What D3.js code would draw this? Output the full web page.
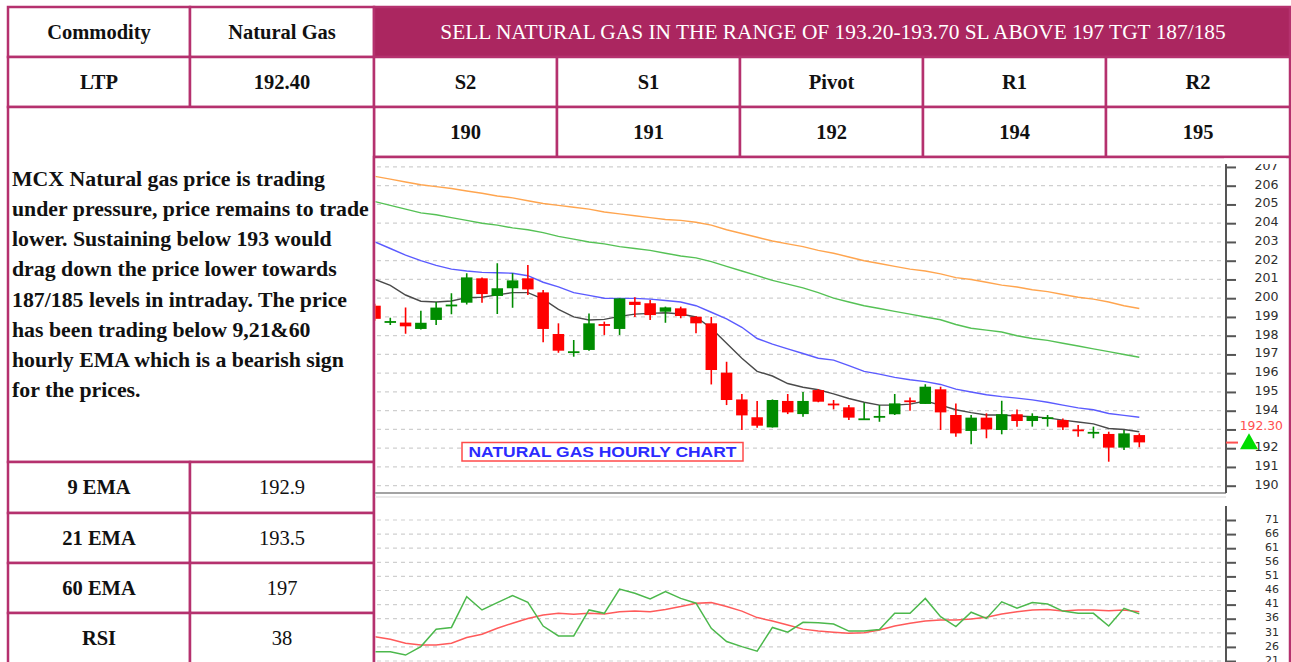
<!DOCTYPE html>
<html>
<head>
<meta charset="utf-8">
<script src="https://cdn.jsdelivr.net/npm/d3@7"></script>
<style>
  body { margin: 0; background: #fff; }
</style>
</head>
<body>
<div id="chart"></div>
<script>
// ---- data ----
const levelNames = ["S2", "S1", "Pivot", "R1", "R2"];
const levelValues = ["190", "191", "192", "194", "195"];
const emaNames = ["9 EMA", "21 EMA", "60 EMA", "RSI"];
const emaValues = ["192.9", "193.5", "197", "38"];
const headline = "SELL NATURAL GAS IN THE RANGE OF 193.20-193.70 SL ABOVE 197 TGT 187/185";
const commentLines = [
  "MCX Natural gas price is trading",
  "under pressure, price remains to trade",
  "lower. Sustaining below 193 would",
  "drag down the price lower towards",
  "187/185 levels in intraday. The price",
  "has been trading below 9,21&60",
  "hourly EMA which is a bearish sign",
  "for the prices."
];

// hourly candles (51 bars)
const openP = [199.60,198.72,198.70,198.36,198.84,199.60,199.76,201.06,200.12,200.53,
  201.06,200.31,198.09,197.13,197.24,198.62,198.36,199.81,199.73,199.28,
  199.46,199.01,198.66,196.03,194.60,193.65,193.11,194.52,193.82,195.10,
  194.38,194.18,193.55,193.68,193.81,194.55,194.36,195.14,193.77,192.92,
  193.63,192.97,193.81,193.45,193.61,193.50,193.00,192.83,192.76,192.03,192.70];
const highP = [199.70,198.96,199.50,199.33,199.80,200.26,201.33,201.10,201.86,201.33,
  201.77,200.44,198.66,197.77,199.19,198.75,200.00,200.05,199.90,199.55,
  199.55,199.05,199.00,196.61,194.89,194.52,194.60,194.89,195.00,195.15,
  194.57,194.30,194.43,194.30,194.89,194.71,195.41,195.28,194.39,193.77,
  193.86,194.53,194.07,193.86,193.77,193.59,193.24,193.15,192.88,192.97,192.79];
const lowP = [198.80,198.57,198.10,198.33,198.57,199.14,199.67,199.76,199.16,199.49,
  200.17,197.65,197.09,196.88,197.20,198.04,198.04,199.00,198.84,198.69,
  198.93,198.13,195.40,194.30,192.97,193.09,193.10,193.82,193.68,194.45,
  194.07,193.50,193.50,193.41,193.77,194.00,194.36,192.97,192.61,192.21,
  192.53,192.74,193.15,193.15,193.15,192.97,192.61,192.53,191.28,191.90,192.05];
const closeP = [198.90,198.78,198.50,198.69,199.50,199.66,201.11,200.22,200.53,200.95,
  200.47,198.36,197.20,197.17,198.66,198.58,199.99,199.64,199.10,199.51,
  199.05,198.66,196.17,194.57,193.75,193.20,194.57,193.91,194.52,194.48,
  194.34,193.63,193.59,193.72,194.39,194.49,195.28,193.91,192.79,193.63,
  193.00,193.81,193.45,193.72,193.65,193.11,192.95,192.87,192.03,192.79,192.31];

// moving averages
const ema9 = [201.00,200.68,200.17,199.84,199.80,199.85,200.03,200.05,200.18,200.30,
  200.30,199.95,199.40,199.00,198.84,198.87,199.03,199.15,199.19,199.22,
  199.16,199.00,198.40,197.60,196.80,196.10,195.85,195.45,195.25,195.12,
  194.90,194.65,194.45,194.30,194.30,194.35,194.52,194.30,194.05,193.90,
  193.77,193.77,193.72,193.68,193.62,193.50,193.40,193.30,193.05,193.00,192.88];
const ema21 = [203.00,202.65,202.30,202.00,201.75,201.55,201.45,201.38,201.36,201.33,
  201.20,200.85,200.60,200.30,200.15,200.00,199.99,199.99,199.95,199.88,
  199.80,199.60,199.25,198.90,198.45,197.85,197.55,197.30,197.05,196.80,
  196.70,196.40,196.10,195.95,195.78,195.65,195.55,195.40,195.15,195.00,
  194.85,194.75,194.67,194.58,194.45,194.30,194.15,194.05,193.85,193.75,193.65];
const ema60 = [205.15,204.95,204.75,204.55,204.45,204.30,204.15,204.00,203.90,203.75,
  203.65,203.50,203.30,203.15,203.00,202.90,202.75,202.65,202.55,202.40,
  202.25,202.15,201.95,201.70,201.45,201.20,200.95,200.75,200.55,200.30,
  200.00,199.80,199.60,199.45,199.30,199.15,199.00,198.85,198.60,198.40,
  198.30,198.20,198.00,197.85,197.75,197.60,197.45,197.30,197.15,197.00,196.85];
const emaLong = [206.50,206.35,206.20,206.05,205.95,205.85,205.72,205.60,205.45,205.35,
  205.20,205.05,204.95,204.85,204.75,204.60,204.50,204.40,204.30,204.20,
  204.15,204.05,203.90,203.65,203.45,203.25,203.05,202.90,202.75,202.55,
  202.40,202.20,202.00,201.85,201.70,201.55,201.45,201.30,201.10,201.00,
  200.85,200.70,200.60,200.45,200.35,200.20,200.05,199.95,199.80,199.60,199.45];

// RSI panel
const rsi = [24.3,24.3,23.1,26.1,32.3,32.9,43.8,39.1,41.7,44.2,
  41.8,33.4,29.9,29.9,39.1,37.9,46.5,45.0,43.0,45.6,
  43.2,41.5,32.6,27.9,26.1,24.5,32.9,31.2,34.7,34.6,
  34.1,31.6,31.6,32.2,37.9,37.9,43.2,36.7,33.2,38.3,
  36.1,42.0,39.7,41.7,41.2,38.7,37.9,37.9,33.4,39.7,37.7];
const rsiSignal = [29.6,28.7,27.3,26.7,26.7,27.3,29.3,30.5,32.6,34.4,
  36.1,37.3,37.9,37.6,37.9,37.7,38.5,38.7,38.5,39.3,
  40.3,41.5,41.7,40.3,38.7,36.4,35.2,33.8,32.3,31.6,
  31.2,30.8,31.0,32.0,33.4,34.4,35.2,35.5,35.5,35.9,
  36.5,37.7,38.5,39.1,39.3,38.7,39.1,39.1,38.8,39.1,38.5];

const priceTicks = [190,191,192,193,194,195,196,197,198,199,200,201,202,203,204,205,206,207];
const rsiTicks = [21,26,31,36,41,46,51,56,61,66,71];
const lastPrice = 192.30;
const chartTitle = "NATURAL GAS HOURLY CHART";

// ---- layout ----
const W = 1291, H = 662;
const border = "#b5316e", headFill = "#ab2660";
const serif = "'Liberation Serif','Times New Roman',serif";
const sans = "'DejaVu Sans',Verdana,sans-serif";

const colX = [8, 190, 374, 557, 740, 923, 1106, 1290];
const rowY = [7, 57, 107, 157];
const emaRowY = [462, 513, 563, 613, 666];

const svg = d3.select("#chart").append("svg")
  .attr("width", W)
  .attr("height", H)
  .style("display", "block");

function cell(x0, y0, x1, y1, fill) {
  svg.append("rect")
    .attr("x", x0).attr("y", y0)
    .attr("width", x1 - x0).attr("height", y1 - y0)
    .attr("fill", fill || "#fff")
    .attr("stroke", border)
    .attr("stroke-width", 2.5);
}

function cellText(x, yc, t, size, weight, color) {
  svg.append("text")
    .attr("x", x)
    .attr("y", yc + size * 0.33)
    .attr("text-anchor", "middle")
    .style("font-family", serif)
    .style("font-size", size + "px")
    .style("font-weight", weight)
    .attr("fill", color || "#111")
    .text(t);
}

// ---- table ----
cell(colX[0], rowY[0], colX[1], rowY[1]);
cell(colX[1], rowY[0], colX[2], rowY[1]);
cell(colX[2], rowY[0], colX[7], rowY[1], headFill);
cell(colX[0], rowY[1], colX[1], rowY[2]);
cell(colX[1], rowY[1], colX[2], rowY[2]);
levelNames.forEach((d, i) => {
  cell(colX[i + 2], rowY[1], colX[i + 3], rowY[2]);
  cell(colX[i + 2], rowY[2], colX[i + 3], rowY[3]);
});
cell(colX[0], rowY[2], colX[2], emaRowY[0]);
emaNames.forEach((d, i) => {
  cell(colX[0], emaRowY[i], colX[1], emaRowY[i + 1]);
  cell(colX[1], emaRowY[i], colX[2], emaRowY[i + 1]);
});
cell(colX[2], rowY[3], colX[7], H + 4);

const mid = (a, b) => (a + b) / 2;
cellText(mid(colX[0], colX[1]), mid(rowY[0], rowY[1]), "Commodity", 20.5, "bold");
cellText(mid(colX[1], colX[2]), mid(rowY[0], rowY[1]), "Natural Gas", 20.5, "bold");
cellText(mid(colX[2], colX[7]) + 1, mid(rowY[0], rowY[1]), headline, 21.4, "normal", "#fff");
cellText(mid(colX[0], colX[1]), mid(rowY[1], rowY[2]), "LTP", 20.5, "bold");
cellText(mid(colX[1], colX[2]), mid(rowY[1], rowY[2]), "192.40", 20.5, "bold");
levelNames.forEach((d, i) => {
  cellText(mid(colX[i + 2], colX[i + 3]), mid(rowY[1], rowY[2]), d, 20.5, "bold");
  cellText(mid(colX[i + 2], colX[i + 3]), mid(rowY[2], rowY[3]), levelValues[i], 20.5, "bold");
});
emaNames.forEach((d, i) => {
  const yc = mid(emaRowY[i], Math.min(emaRowY[i + 1], 663));
  cellText(mid(colX[0], colX[1]), yc, d, 20.5, "bold");
  cellText(mid(colX[1], colX[2]), yc, emaValues[i], 20.5, "normal");
});

svg.append("g").selectAll("text")
  .data(commentLines)
  .join("text")
  .attr("x", 12)
  .attr("y", (d, i) => 185.7 + i * 30.2)
  .style("font-family", serif)
  .style("font-size", "21.8px")
  .style("font-weight", "bold")
  .attr("fill", "#111")
  .text(d => d);

// ---- price chart ----
const idx = d3.range(openP.length);
const x = d3.scaleLinear().domain([0, openP.length - 1]).range([375, 1139.3]);
const y = d3.scaleLinear().domain([190, 207]).range([485.7, 166.95]);
const axisX = 1226;

const defs = svg.append("defs");
defs.append("clipPath").attr("id", "clipMain")
  .append("rect").attr("x", 375.5).attr("y", 163).attr("width", axisX - 375.5).attr("height", 493 - 163);
defs.append("clipPath").attr("id", "clipRsi")
  .append("rect").attr("x", 375.5).attr("y", 497).attr("width", axisX - 375.5).attr("height", H - 497);

const main = svg.append("g").attr("clip-path", "url(#clipMain)");

main.append("g").selectAll("line")
  .data(priceTicks)
  .join("line")
  .attr("x1", 377).attr("x2", 1222)
  .attr("y1", d => y(d)).attr("y2", d => y(d))
  .attr("stroke", "#cfcfcf")
  .attr("stroke-width", 1.2)
  .attr("stroke-dasharray", "4,4");

const emaSeries = [
  { values: emaLong, color: "#ffa54f" },
  { values: ema60, color: "#55c155" },
  { values: ema21, color: "#5b5bff" },
  { values: ema9, color: "#4a4a4a" }
];
const priceLine = d3.line().x((d, i) => x(i)).y(d => y(d));
main.append("g").selectAll("path")
  .data(emaSeries)
  .join("path")
  .attr("d", d => priceLine(d.values))
  .attr("fill", "none")
  .attr("stroke", d => d.color)
  .attr("stroke-width", 1.4);

const upColor = "#008c00", downColor = "#ff0000";
const bodyW = 11.5;
const candles = main.append("g").selectAll("g")
  .data(idx)
  .join("g")
  .attr("fill", i => closeP[i] >= openP[i] ? upColor : downColor)
  .attr("stroke", i => closeP[i] >= openP[i] ? upColor : downColor);

candles.append("line")
  .attr("x1", i => x(i)).attr("x2", i => x(i))
  .attr("y1", i => y(highP[i])).attr("y2", i => y(lowP[i]))
  .attr("stroke-width", 1.6);

candles.append("rect")
  .attr("x", i => x(i) - bodyW / 2)
  .attr("width", bodyW)
  .attr("y", i => y(Math.max(openP[i], closeP[i])))
  .attr("height", i => Math.max(1.8, Math.abs(y(openP[i]) - y(closeP[i]))))
  .attr("stroke", "none");

// chart label box
const boxG = main.append("g");
boxG.append("rect")
  .attr("x", 462).attr("y", 442.5)
  .attr("width", 281).attr("height", 18.5)
  .attr("fill", "#fff")
  .attr("stroke", "#ff4a4a")
  .attr("stroke-width", 1.5);
boxG.append("text")
  .attr("x", 602.5).attr("y", 457)
  .attr("text-anchor", "middle")
  .attr("textLength", 268)
  .attr("lengthAdjust", "spacingAndGlyphs")
  .style("font-family", "'Liberation Sans',Arial,sans-serif")
  .style("font-size", "14.5px")
  .style("font-weight", "bold")
  .attr("fill", "#2b2bff")
  .text(chartTitle);

// bottom edge of price panel
svg.append("line")
  .attr("x1", 375).attr("x2", axisX)
  .attr("y1", 493).attr("y2", 493)
  .attr("stroke", "#a3a3a3").attr("stroke-width", 2);

// right price axis
const yAxis = d3.axisRight(y)
  .tickValues(priceTicks)
  .tickSize(10)
  .tickFormat(d => d === 193 ? "" : d);
const yAxisG = svg.append("g")
  .attr("transform", `translate(${axisX},0)`)
  .call(yAxis);
yAxisG.select(".domain").remove();
yAxisG.selectAll(".tick line").attr("stroke", "#555").attr("stroke-width", 2);
yAxisG.selectAll(".tick text")
  .attr("x", 52.5).attr("dy", "0.2em")
  .attr("text-anchor", "end")
  .attr("fill", "#2e2e2e")
  .style("font-family", sans)
  .style("font-size", "12.6px");
yAxisG.append("line")
  .attr("x1", 0).attr("x2", 0)
  .attr("y1", 163).attr("y2", 493)
  .attr("stroke", "#555").attr("stroke-width", 2);

// the top label sits partly under the table border
svg.append("rect").attr("x", axisX - 2).attr("y", 158.5).attr("width", 62).attr("height", 5.5).attr("fill", "#fff");

// last price marker
svg.append("line")
  .attr("x1", axisX).attr("x2", axisX + 12)
  .attr("y1", y(lastPrice)).attr("y2", y(lastPrice))
  .attr("stroke", "#ff5050").attr("stroke-width", 2);
svg.append("text")
  .attr("x", 1283).attr("y", y(lastPrice) - 13)
  .attr("text-anchor", "end")
  .attr("fill", "#ff5050")
  .style("font-family", sans)
  .style("font-size", "12.4px")
  .text(lastPrice.toFixed(2));
svg.append("path")
  .attr("d", `M1240,${y(192) + 1} L1258,${y(192) + 1} L1249,${y(192) - 15} Z`)
  .attr("fill", "#00dd00");

// ---- RSI panel ----
const r = d3.scaleLinear().domain([21, 71]).range([661, 520]);

svg.append("line")
  .attr("x1", 375).attr("x2", axisX)
  .attr("y1", 497).attr("y2", 497)
  .attr("stroke", "#e4e4e4").attr("stroke-width", 1.5);

const rsiG = svg.append("g").attr("clip-path", "url(#clipRsi)");
rsiG.append("g").selectAll("line")
  .data(rsiTicks)
  .join("line")
  .attr("x1", 377).attr("x2", 1222)
  .attr("y1", d => r(d)).attr("y2", d => r(d))
  .attr("stroke", "#cfcfcf")
  .attr("stroke-width", 1.2)
  .attr("stroke-dasharray", "4,4");

const rsiLine = d3.line().x((d, i) => x(i)).y(d => r(d));
rsiG.append("path")
  .attr("d", rsiLine(rsiSignal))
  .attr("fill", "none")
  .attr("stroke", "#ff5a5a")
  .attr("stroke-width", 1.5);
rsiG.append("path")
  .attr("d", rsiLine(rsi))
  .attr("fill", "none")
  .attr("stroke", "#4cb84c")
  .attr("stroke-width", 1.5);

const rAxisG = svg.append("g")
  .attr("transform", `translate(${axisX},0)`)
  .call(d3.axisRight(r).tickValues(rsiTicks).tickSize(10));
rAxisG.select(".domain").remove();
rAxisG.selectAll(".tick line").attr("stroke", "#555").attr("stroke-width", 2);
rAxisG.selectAll(".tick text")
  .attr("x", 53).attr("dy", "0.2em")
  .attr("text-anchor", "end")
  .attr("fill", "#2e2e2e")
  .style("font-family", sans)
  .style("font-size", "11px");
rAxisG.append("line")
  .attr("x1", 0).attr("x2", 0)
  .attr("y1", 506).attr("y2", H)
  .attr("stroke", "#555").attr("stroke-width", 2);
</script>
</body>
</html>
